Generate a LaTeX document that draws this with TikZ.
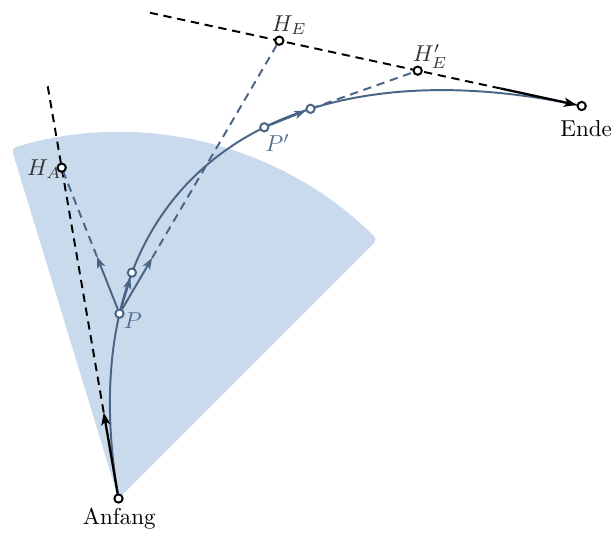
\documentclass[tikz,border=0pt]{standalone}
\usetikzlibrary{arrows.meta,calc}
\definecolor{fillblue}{HTML}{C9DAED}
\definecolor{lineblue}{HTML}{4A6485}
\definecolor{labblue}{HTML}{56708F}
\definecolor{labgray}{HTML}{333333}
\pgfdeclarelayer{bg}
\pgfsetlayers{bg,main}
\begin{document}
\begin{tikzpicture}[x=0.4348pt,y=0.4348pt,
  pt/.style={circle,draw,fill=white,line width=0.85pt,inner sep=0pt,minimum size=3.6pt},
  bpt/.style={pt,draw=black},
  lpt/.style={pt,draw=lineblue},
  helper/.style={dash pattern=on 3.6pt off 2.5pt,line width=0.85pt},
  curvestyle/.style={lineblue,line width=0.85pt},
  barrow/.style={-{Stealth[length=5.5pt,width=4pt,inset=1.4pt]},line width=1pt},
  larrow/.style={-{Stealth[length=5pt,width=3.6pt,inset=1.3pt]},lineblue,line width=0.85pt},
  lab/.style={inner sep=0pt,anchor=base west}]
\useasboundingbox (0,0) rectangle (612,532);
\coordinate (A) at (118.5,33.5);
\coordinate (E) at (581.7,426);
\coordinate (HA) at (61.7,364.3);
\coordinate (HE) at (279.3,491.3);
\coordinate (HE2) at (417.7,461.3);
\coordinate (C1) at ($(A)!0.97!(HA)$);
\begin{pgfonlayer}{bg}
\fill[fillblue,rounded corners=2pt] (A) -- ++(107:159.2pt) arc[start angle=107,end angle=45,radius=159.2pt] -- cycle;
\draw[curvestyle] (A) .. controls (C1) and (HE) .. (E)
  coordinate[pos=0.22] (P)
  coordinate[pos=0.28] (Q)
  coordinate[pos=0.587] (P1)
  coordinate[pos=0.66] (P2);
\coordinate (At) at ($(A)!0.26!(HA)$);
\coordinate (Af) at ($(A)!1.26!(HA)$);
\coordinate (Et) at ($(E)!0.268!(HE)$);
\coordinate (Ef) at ($(E)!1.4276!(HE)$);
\draw[helper] (At) -- (Af);
\draw[helper] (Et) -- (Ef);
\coordinate (Pa) at ($(P)!0.39!(HA)$);
\coordinate (Pb) at ($(P)!0.204!(HE)$);
\draw[helper,lineblue] (Pa) -- (HA);
\draw[helper,lineblue] (Pb) -- (HE);
\draw[helper,lineblue] (P2) -- (HE2);
\end{pgfonlayer}
\node[bpt] (nA) at (A) {};
\node[bpt] (nE) at (E) {};
\node[bpt] (nHA) at (HA) {};
\node[bpt] (nHE) at (HE) {};
\node[bpt] (nHE2) at (HE2) {};
\node[lpt] (nP) at (P) {};
\node[lpt] (nQ) at (Q) {};
\node[lpt] (nP1) at (P1) {};
\node[lpt] (nP2) at (P2) {};
\draw[barrow] (nA) -- (At);
\draw[barrow] (Et) -- (nE);
\draw[larrow] (nP) -- (Pa);
\draw[larrow] (nP) -- (Pb);
\draw[larrow] (nP) -- (nQ);
\draw[larrow] (nP1) -- (nP2);
\node[lab,text=labgray] (tHA) at (26.7,357) {$H_A$};
\node[lab,text=labgray] (tHE) at (271.5,500.5) {$H_E$};
\node[lab,text=labgray] (tHE2) at (412.3,470.3) {$H'_E$};
\node[lab,text=labblue] (tP) at (123.3,203.7) {$P$};
\node[lab,text=labblue] (tP1) at (265,380.3) {$P'$};
\node[inner sep=0pt,anchor=base] (tA) at (119.2,8) {Anfang};
\node[lab] (tE) at (560,395.3) {Ende};
\end{tikzpicture}
\end{document}
